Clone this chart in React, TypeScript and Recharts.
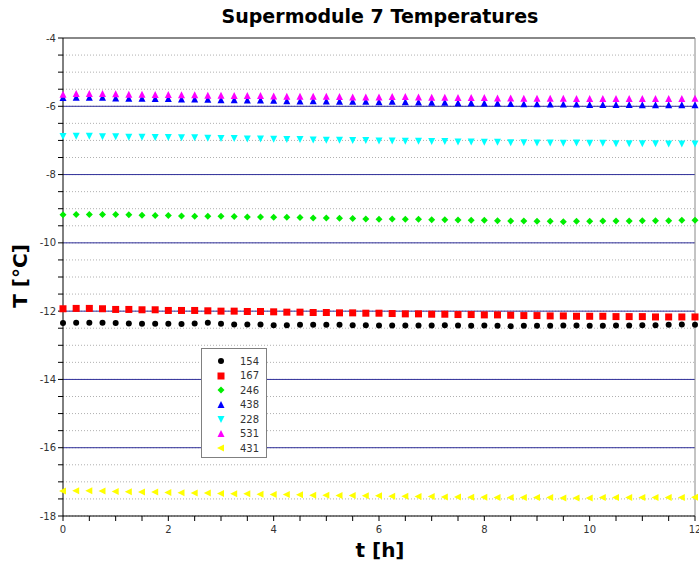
import { ScatterChart, Scatter, XAxis, YAxis, CartesianGrid, ReferenceLine } from "recharts";

const TIME = [
  0, 0.25, 0.5, 0.75, 1, 1.25, 1.5, 1.75, 2, 2.25, 2.5, 2.75, 3, 3.25, 3.5, 3.75, 4,
  4.25, 4.5, 4.75, 5, 5.25, 5.5, 5.75, 6, 6.25, 6.5, 6.75, 7, 7.25, 7.5, 7.75, 8,
  8.25, 8.5, 8.75, 9, 9.25, 9.5, 9.75, 10, 10.25, 10.5, 10.75, 11, 11.25, 11.5, 11.75, 12,
];

const T154 = [
  -12.35, -12.34, -12.34, -12.34, -12.35, -12.36, -12.37, -12.37, -12.37, -12.38, -12.36, -12.34,
  -12.37, -12.39, -12.39, -12.39, -12.41, -12.41, -12.4, -12.4, -12.4, -12.4, -12.41, -12.41,
  -12.42, -12.42, -12.42, -12.42, -12.42, -12.41, -12.42, -12.43, -12.42, -12.43, -12.44, -12.43,
  -12.43, -12.43, -12.42, -12.42, -12.43, -12.43, -12.42, -12.42, -12.41, -12.41, -12.4, -12.39, -12.4,
];
const T167 = [
  -11.93, -11.92, -11.92, -11.93, -11.95, -11.95, -11.96, -11.96, -11.98, -11.98, -11.98, -11.99,
  -12.0, -12.0, -12.01, -12.01, -12.02, -12.03, -12.03, -12.04, -12.04, -12.05, -12.05, -12.06,
  -12.06, -12.07, -12.08, -12.08, -12.09, -12.09, -12.1, -12.1, -12.11, -12.11, -12.12, -12.13,
  -12.13, -12.14, -12.14, -12.15, -12.15, -12.15, -12.16, -12.16, -12.16, -12.17, -12.17, -12.17, -12.17,
];
const T246 = [
  -9.18, -9.17, -9.17, -9.17, -9.17, -9.18, -9.19, -9.2, -9.2, -9.21, -9.22, -9.22,
  -9.22, -9.23, -9.24, -9.24, -9.25, -9.25, -9.26, -9.27, -9.27, -9.28, -9.29, -9.3,
  -9.31, -9.3, -9.31, -9.31, -9.32, -9.32, -9.33, -9.34, -9.34, -9.35, -9.36, -9.36,
  -9.37, -9.37, -9.38, -9.37, -9.37, -9.36, -9.36, -9.36, -9.35, -9.35, -9.35, -9.34, -9.34,
];
const T438 = [
  -5.76, -5.75, -5.75, -5.75, -5.77, -5.78, -5.78, -5.79, -5.79, -5.8, -5.8, -5.81,
  -5.82, -5.82, -5.83, -5.83, -5.84, -5.85, -5.86, -5.85, -5.86, -5.87, -5.87, -5.87,
  -5.88, -5.87, -5.88, -5.89, -5.9, -5.9, -5.91, -5.91, -5.92, -5.92, -5.93, -5.94,
  -5.94, -5.95, -5.95, -5.95, -5.96, -5.96, -5.96, -5.96, -5.97, -5.97, -5.97, -5.97, -5.97,
];
const T228 = [
  -6.87, -6.86, -6.86, -6.88, -6.88, -6.89, -6.89, -6.9, -6.9, -6.91, -6.91, -6.92,
  -6.93, -6.93, -6.94, -6.94, -6.95, -6.96, -6.96, -6.97, -6.98, -6.98, -6.99, -6.99,
  -7.0, -7.0, -7.01, -7.01, -7.02, -7.02, -7.03, -7.03, -7.04, -7.04, -7.05, -7.05,
  -7.06, -7.06, -7.07, -7.06, -7.07, -7.07, -7.08, -7.08, -7.08, -7.08, -7.09, -7.09, -7.09,
];
const T531 = [
  -5.66, -5.64, -5.64, -5.64, -5.65, -5.66, -5.66, -5.67, -5.67, -5.68, -5.68, -5.69,
  -5.69, -5.7, -5.7, -5.7, -5.71, -5.72, -5.72, -5.72, -5.72, -5.73, -5.74, -5.74,
  -5.74, -5.73, -5.73, -5.74, -5.75, -5.75, -5.76, -5.76, -5.76, -5.77, -5.77, -5.78,
  -5.78, -5.78, -5.78, -5.79, -5.79, -5.79, -5.79, -5.79, -5.79, -5.79, -5.79, -5.79, -5.78,
];
const T431 = [
  -17.27, -17.26, -17.26, -17.27, -17.28, -17.29, -17.3, -17.3, -17.31, -17.32, -17.33, -17.33,
  -17.34, -17.35, -17.35, -17.36, -17.37, -17.37, -17.38, -17.39, -17.39, -17.4, -17.4, -17.41,
  -17.41, -17.42, -17.42, -17.43, -17.43, -17.44, -17.44, -17.45, -17.45, -17.46, -17.46, -17.46,
  -17.46, -17.46, -17.47, -17.47, -17.47, -17.46, -17.46, -17.46, -17.46, -17.46, -17.46, -17.46, -17.45,
];

const X_TICKS = [
  0, 0.5, 1, 1.5, 2, 2.5, 3, 3.5, 4, 4.5, 5, 5.5, 6, 6.5, 7, 7.5, 8, 8.5, 9, 9.5, 10, 10.5, 11, 11.5, 12,
];
const Y_TICKS = [
  -18, -17.5, -17, -16.5, -16, -15.5, -15, -14.5, -14, -13.5, -13, -12.5, -12, -11.5, -11, -10.5,
  -10, -9.5, -9, -8.5, -8, -7.5, -7, -6.5, -6, -5.5, -5, -4.5, -4,
];
const MAJOR_Y = [-16, -14, -12, -10, -8, -6];

type MarkerKind = "circle" | "square" | "diamond" | "up" | "down" | "left";

const SERIES: { name: string; values: number[]; color: string; marker: MarkerKind }[] = [
  { name: "154", values: T154, color: "#000000", marker: "circle" },
  { name: "167", values: T167, color: "#ff0000", marker: "square" },
  { name: "246", values: T246, color: "#00ee00", marker: "diamond" },
  { name: "438", values: T438, color: "#0000ff", marker: "up" },
  { name: "228", values: T228, color: "#00ffff", marker: "down" },
  { name: "531", values: T531, color: "#ff00ff", marker: "up" },
  { name: "431", values: T431, color: "#ffff00", marker: "left" },
];

function Marker({ kind, cx, cy, color }: { kind: MarkerKind; cx: number; cy: number; color: string }) {
  switch (kind) {
    case "circle":
      return <circle cx={cx} cy={cy} r={3} fill={color} />;
    case "square":
      return <rect x={cx - 3.5} y={cy - 3.5} width={7} height={7} fill={color} />;
    case "diamond":
      return <polygon points={`${cx},${cy - 3.5} ${cx + 3.5},${cy} ${cx},${cy + 3.5} ${cx - 3.5},${cy}`} fill={color} />;
    case "up":
      return <polygon points={`${cx},${cy - 4} ${cx + 3.5},${cy + 3} ${cx - 3.5},${cy + 3}`} fill={color} />;
    case "down":
      return <polygon points={`${cx},${cy + 4} ${cx + 3.5},${cy - 3} ${cx - 3.5},${cy - 3}`} fill={color} />;
    default:
      return <polygon points={`${cx - 4},${cy} ${cx + 3},${cy - 3.5} ${cx + 3},${cy + 3.5}`} fill={color} />;
  }
}

const font = "'DejaVu Sans', Verdana, sans-serif";

export default function App() {
  return (
    <div style={{ position: "absolute", left: 0, top: 0, width: 699, height: 563, background: "#fff", fontFamily: font }}>
      <ScatterChart width={699} height={563} margin={{ top: 38, right: 4, bottom: 17, left: 0 }}>
        <CartesianGrid vertical={false} stroke="#b0b0b0" strokeDasharray="1 2" />
        <XAxis
          type="number"
          dataKey="t"
          domain={[0, 12]}
          ticks={X_TICKS}
          interval={0}
          height={30}
          tickSize={5}
          tickMargin={5}
          stroke="#000"
          tick={{ fontSize: 10, fill: "#333", fontFamily: font }}
          tickFormatter={(v: number) => (v % 2 === 0 ? String(v) : "")}
        />
        <YAxis
          type="number"
          dataKey="v"
          domain={[-18, -4]}
          ticks={Y_TICKS}
          interval={0}
          width={63}
          tickSize={5}
          tickMargin={2}
          stroke="#000"
          tick={{ fontSize: 10, fill: "#333", fontFamily: font }}
          tickFormatter={(v: number) => (v % 2 === 0 ? String(v) : "")}
        />
        {MAJOR_Y.map((y) => (
          <ReferenceLine key={y} y={y} stroke="#30309a" strokeWidth={1} />
        ))}
        <ReferenceLine y={-4} stroke="#888" strokeWidth={2} />
        <ReferenceLine x={12} stroke="#888" strokeWidth={1} />
        {SERIES.map((s) => (
          <Scatter
            key={s.name}
            name={s.name}
            data={TIME.map((t, i) => ({ t, v: s.values[i] }))}
            isAnimationActive={false}
            shape={(p: any) => <Marker kind={s.marker} cx={p.cx} cy={p.cy} color={s.color} />}
          />
        ))}
      </ScatterChart>

      <div style={{ position: "absolute", left: 62, width: 636, top: 5, textAlign: "center", fontSize: 19, fontWeight: "bold" }}>
        Supermodule 7 Temperatures
      </div>
      <div style={{ position: "absolute", left: 62, width: 636, top: 538, textAlign: "center", fontSize: 20, fontWeight: "bold" }}>
        t [h]
      </div>
      <div
        style={{
          position: "absolute",
          left: 20,
          top: 276,
          transform: "translate(-50%, -50%) rotate(-90deg)",
          fontSize: 20,
          fontWeight: "bold",
          whiteSpace: "nowrap",
        }}
      >
        T [°C]
      </div>

      <div
        style={{
          position: "absolute",
          left: 201,
          top: 348,
          width: 66,
          height: 110,
          border: "1px solid #808080",
          background: "#fff",
          paddingTop: 5,
          boxSizing: "border-box",
        }}
      >
        {SERIES.map((s) => (
          <div key={s.name} style={{ display: "flex", alignItems: "center", height: 14.5, fontSize: 10, color: "#333" }}>
            <svg width={38} height={12}>
              <Marker kind={s.marker} cx={19} cy={6} color={s.color} />
            </svg>
            <span>{s.name}</span>
          </div>
        ))}
      </div>
    </div>
  );
}
